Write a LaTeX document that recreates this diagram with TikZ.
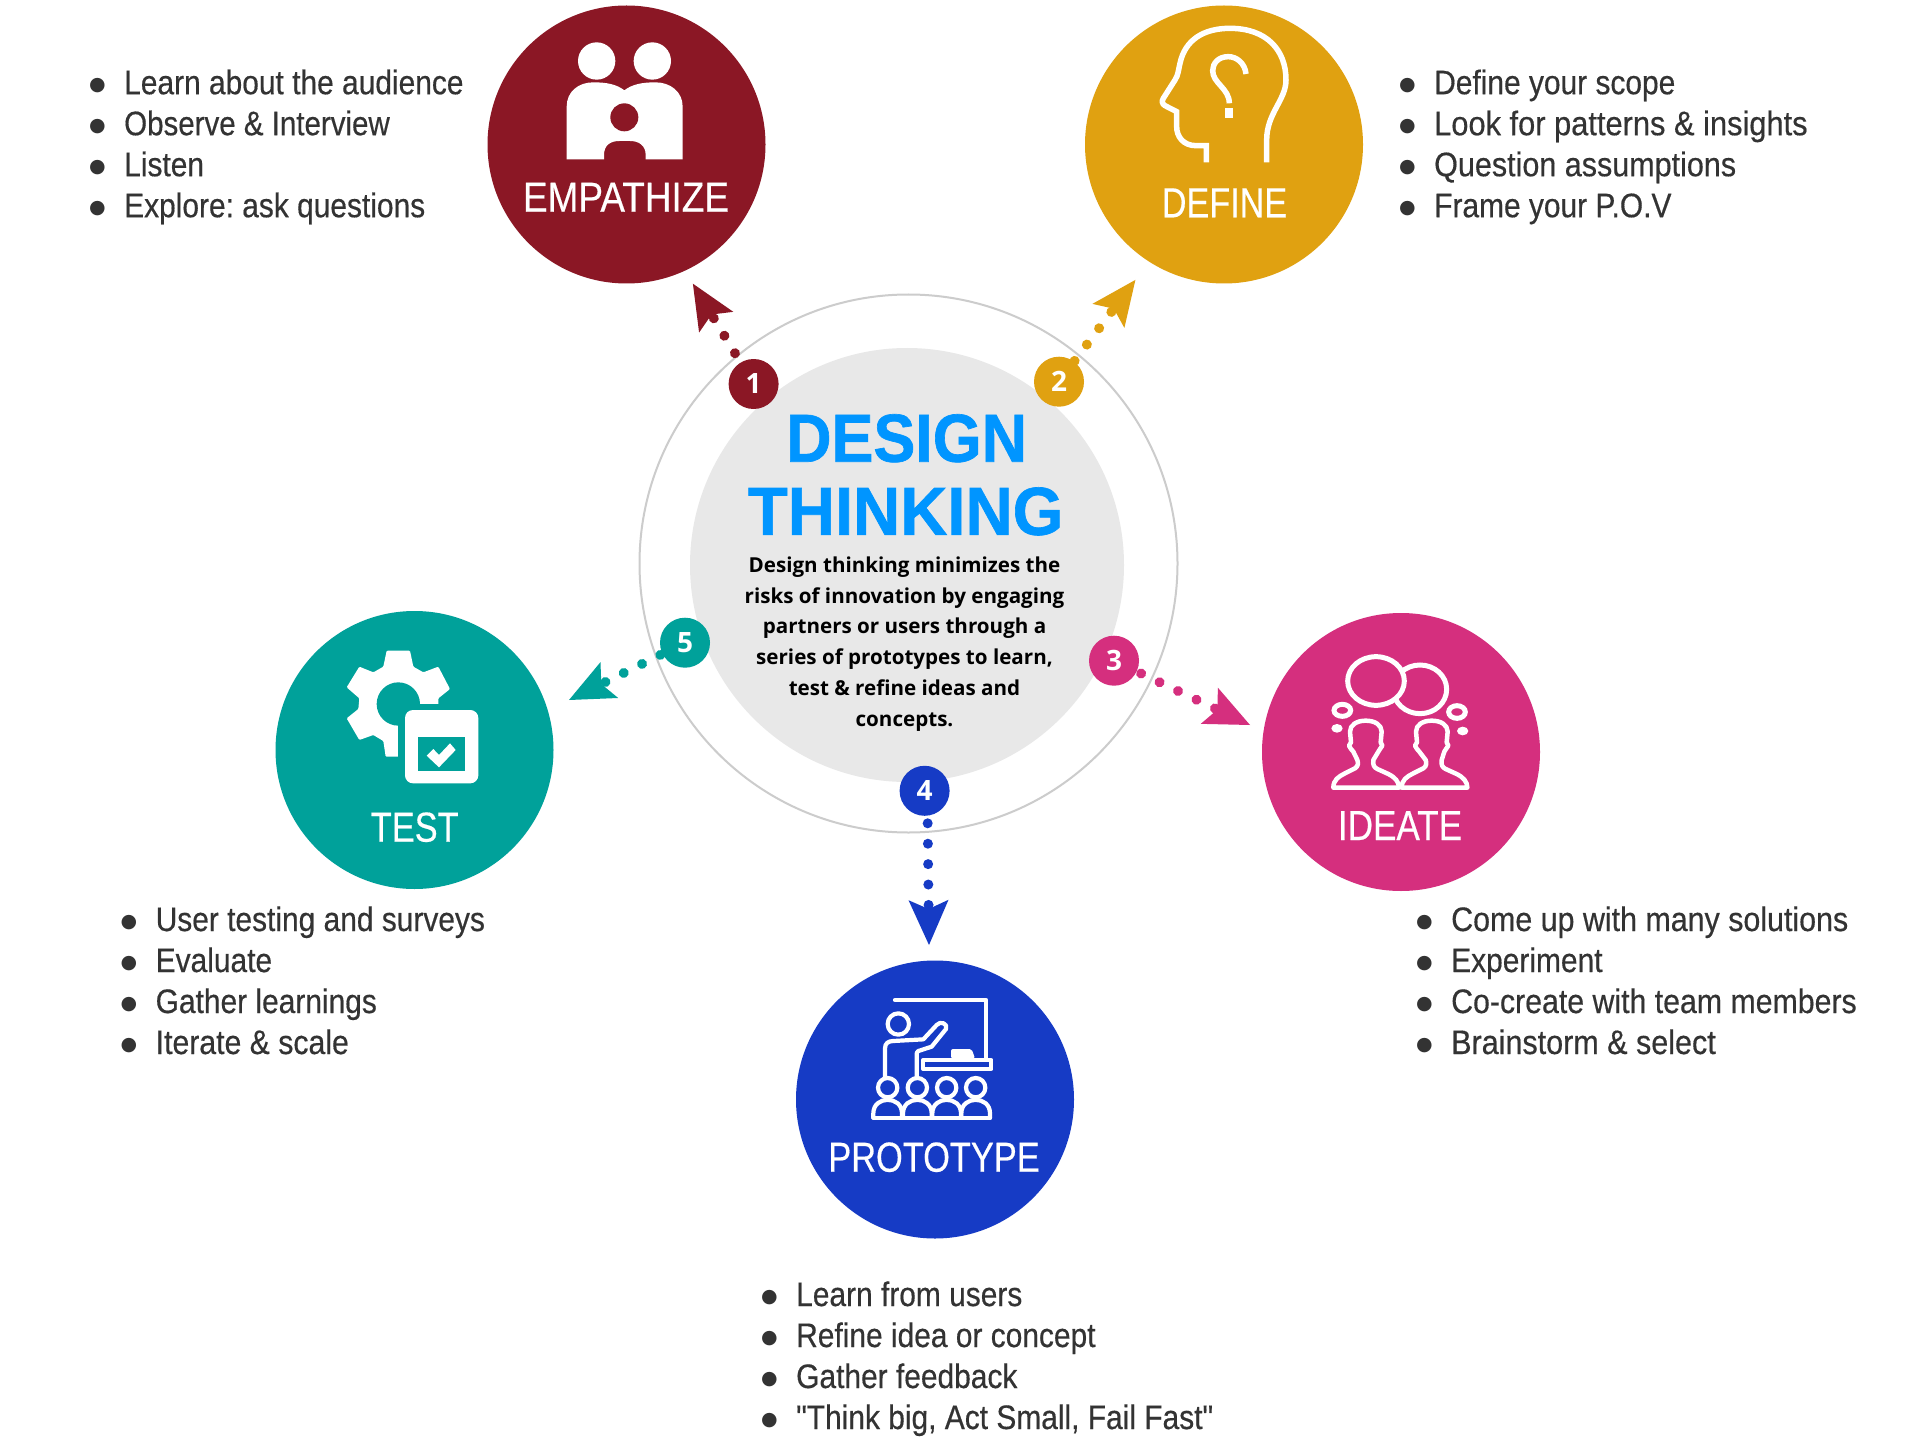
\documentclass[tikz,border=0pt]{standalone}
\usepackage{fontspec}
\usetikzlibrary{arrows.meta}
\setmainfont{Liberation Sans}
\newfontfamily\condf[FakeStretch=0.88,FakeBold=0.4]{Liberation Sans}
\newfontfamily\bodyf{Open Sans}
\newfontfamily\titlef[BoldFeatures={FakeBold=1}]{Liberation Sans}
\newfontfamily\bulf{DejaVu Sans}
\definecolor{cmaroon}{HTML}{8B1725}
\definecolor{cgold}{HTML}{E0A111}
\definecolor{cpink}{HTML}{D52F7E}
\definecolor{cblue}{HTML}{163BC5}
\definecolor{cteal}{HTML}{00A19A}
\definecolor{cdisc}{HTML}{E8E8E8}
\definecolor{cring}{HTML}{CCCCCC}
\definecolor{ctitle}{HTML}{0095FF}
\definecolor{clist}{HTML}{333333}
\newcommand{\bul}{\makebox[33pt][l]{\hspace*{-2pt}\raisebox{4pt}{\bulf\fontsize{19}{19}\selectfont ●}}}
\newcommand{\hs}[2]{\scalebox{#1}[1]{#2}}
\newcommand{\num}[1]{\raisebox{-1pt}{#1}}
\frenchspacing
\tikzset{
  stagecircle/.style={circle,fill=#1,minimum size=278pt,inner sep=0pt,outer sep=0pt},
  stagelabel/.style={text=white,anchor=base,inner sep=0pt,font=\condf\fontsize{42}{42}\selectfont},
  badge/.style={circle,fill=#1,minimum size=50pt,inner sep=0pt,outer sep=0pt,text=white,font=\bodyf\bfseries\fontsize{28}{28}\selectfont},
  flow/.style={draw=#1,line width=10pt,line cap=round,dash pattern=on 0.01pt off 20.4pt,
    -{Stealth[length=45pt,width=40pt,inset=9pt,line width=0pt,#1]}},
  listtext/.style={text=clist,anchor=base west,inner sep=0pt,align=left,font=\condf\fontsize{34}{41}\selectfont},
  titletext/.style={text=ctitle,anchor=base,inner sep=0pt,font=\titlef\bfseries\fontsize{68}{68}\selectfont},
  icon/.style={x=0.33333pt,y=-0.33333pt}
}
\begin{document}
\begin{tikzpicture}[x=1pt,y=-1pt]
\useasboundingbox (0,0) rectangle (1920,1455);
\fill[white] (0,0) rectangle (1920,1455);
% centre
\node[circle,draw=cring,line width=2pt,minimum size=538pt,inner sep=0pt,outer sep=0pt] (ring) at (908.5,563.5) {};
\node[circle,fill=cdisc,minimum size=434pt,inner sep=0pt,outer sep=0pt] (disc) at (907,565) {};
% stages
\node[stagecircle=cmaroon] (emp) at (626.5,144.5) {};
\node[stagecircle=cgold] (def) at (1224,144.5) {};
\node[stagecircle=cpink] (ide) at (1401,752) {};
\node[stagecircle=cblue] (pro) at (935,1099.5) {};
\node[stagecircle=cteal] (tes) at (414.5,750) {};
% badges
\node[badge=cmaroon] (b1) at (753.6,384) {\num{1}};
\node[badge=cgold] (b2) at (1059,381.7) {\num{2}};
\node[badge=cpink] (b3) at (1114,660.7) {\num{3}};
\node[badge=cblue] (b4) at (924.6,790.8) {\num{4}};
\node[badge=cteal] (b5) at (685,642.7) {\num{5}};
% arrow tips
\coordinate (t1) at (692.9,283.7);
\coordinate (t2) at (1135.4,279.9);
\coordinate (t3) at (1250,725);
\coordinate (t4) at (929,945);
\coordinate (t5) at (569,700);
\draw[flow=cmaroon,shorten <=11pt] (b1) -- (t1);
\draw[flow=cgold,shorten <=1pt] (b2) -- (t2);
\draw[flow=cpink,shorten <=5pt] (b3) -- (t3);
\draw[flow=cblue,shorten <=7.5pt] ([xshift=3pt]b4.south) -- (t4);
\draw[flow=cteal,shorten <=2.5pt] (b5) -- (t5);
% stage labels
\node[stagelabel] (l1) at (626,211.7) {\hs{1.0}{EMPATHIZE}};
\node[stagelabel] (l2) at (1224.5,217.3) {\hs{.925}{DEFINE}};
\node[stagelabel] (l3) at (1400,840) {\hs{.95}{IDEATE}};
\node[stagelabel] (l4) at (934,1171.7) {\hs{.93}{PROTOTYPE}};
\node[stagelabel] (l5) at (414.7,841.7) {\hs{.93}{TEST}};
% title
\node[titletext] (t-a) at (906.6,461.7) {\hs{.924}{DESIGN}};
\node[titletext] (t-b) at (905.7,534.8) {\hs{.96}{THINKING}};
\node[anchor=base,inner sep=0pt,align=center,font=\bodyf\bfseries\fontsize{20.6}{30.7}\selectfont] (desc) at (904.5,726)
 {Design thinking minimizes the\\risks of innovation by engaging\\partners or users through a\\series of prototypes to learn,\\test \& refine ideas and\\concepts.};
% lists
\node[listtext] (list1) at (91,217.2) {\bul Learn about the audience\\\bul \hs{.986}{Observe \& Interview}\\\bul Listen\\\bul Explore: ask questions};
\node[listtext] (list2) at (1401,217.2) {\bul Define your scope\\\bul \hs{1.03}{Look for patterns \& insights}\\\bul \hs{1.02}{Question assumptions}\\\bul Frame your P.O.V};
\node[listtext] (list3) at (1418,1054) {\bul \hs{1.016}{Come up with many solutions}\\\bul Experiment\\\bul \hs{1.012}{Co-create with team members}\\\bul \hs{1.02}{Brainstorm \& select}};
\node[listtext] (list4) at (763,1429) {\bul Learn from users\\\bul Refine idea or concept\\\bul Gather feedback\\\bul "Think big, Act Small, Fail Fast"};
\node[listtext] (list5) at (122.5,1054) {\bul User testing and surveys\\\bul Evaluate\\\bul Gather learnings\\\bul \hs{1.01}{Iterate \& scale}};
% icon: empathize
\begin{scope}[shift={(470,0)},icon]
\fill[white] (380,183) circle[radius=56] (547,183) circle[radius=56];
\fill[white] (290,478) -- (290,320) .. controls (290,275) and (325,247) .. (370,247) .. controls (410,247) and (440,253) .. (463,271) .. controls (486,253) and (516,247) .. (556,247) .. controls (601,247) and (638,275) .. (638,320) -- (638,478) -- (527,478) -- (527,465) .. controls (527,435) and (505,423) .. (480,423) -- (448,423) .. controls (422,423) and (402,435) .. (402,465) -- (402,478) -- cycle;
\fill[cmaroon] (463,352) circle[radius=42];
\end{scope}
% icon: define
\begin{scope}[shift={(1070,0)},icon,draw=white,line width=5.5pt]
\draw (409,487) -- (409,437) -- (378,437) .. controls (340,437) and (320,410) .. (320,380) -- (320,335) -- (285,317) .. controls (276,312) and (275,303) .. (280,295) -- (315,240) .. controls (325,225) and (325,210) .. (330,190) .. controls (345,120) and (400,85) .. (480,85) .. controls (590,85) and (648,150) .. (648,240) .. controls (648,300) and (590,340) .. (590,420) -- (590,487);
\draw (528,222) .. controls (525,190) and (500,170) .. (475,170) .. controls (445,170) and (428,190) .. (428,212) .. controls (428,250) and (478,265) .. (478,310);
\fill[white] (466,325) rectangle (490,353);
\end{scope}
% icon: ideate
\begin{scope}[shift={(1250,600)},icon,draw=white,line width=5pt]
\draw (510,268) circle[x radius=80,y radius=73];
\draw[fill=cpink] (378,243) circle[x radius=85,y radius=73];
\draw (277,331) circle[x radius=25,y radius=18];
\draw (621,336) circle[x radius=25,y radius=19];
\fill[white] (261,385) circle[x radius=17,y radius=13] (638,393) circle[x radius=17,y radius=13];
\foreach \b/\h in {0/0,205/198}{
\draw[line width=4.5pt,line join=round] (\b+250,563) .. controls (\b+250,540) and (\b+265,530) .. (\b+285,520) -- (\b+315,505) .. controls (\b+325,498) and (\b+325,490) .. (\b+322,480) -- (\h+310,455) -- (\h+303,447) -- (\h+297,437) -- (\h+303,427) -- (\h+300,395) .. controls (\h+300,375) and (\h+320,362) .. (\h+347,362) .. controls (\h+375,362) and (\h+395,375) .. (\h+395,395) -- (\h+392,427) -- (\h+397,437) -- (\h+390,447) -- (\h+385,455) -- (\b+370,480) .. controls (\b+368,495) and (\b+372,502) .. (\b+382,507) -- (\b+415,522) .. controls (\b+435,532) and (\b+447,545) .. (\b+447,563) -- cycle;
}
\end{scope}
% icon: prototype
\begin{scope}[shift={(790,950)},icon,draw=white,line width=4.2pt,line cap=round,line join=round]
\draw (315,150) -- (588,150) -- (588,325);
\draw (400,330) rectangle (604,357);
\fill[white,rounded corners=2pt] (483,325) -- (483,297) -- (545,297) -- (555,325) -- cycle;
\draw (325,222) circle[radius=32];
\draw (285,380) -- (285,295) .. controls (285,280) and (295,273) .. (310,273) -- (400,268) -- (440,225) .. controls (450,212) and (475,220) .. (468,237) -- (425,290) -- (385,303) .. controls (380,305) and (380,310) .. (380,315) -- (380,380);
\foreach \c in {293,382,470,557}{
\draw (\c,413) circle[radius=29];
\draw (\c-43,503) -- (\c-43,490) .. controls (\c-43,436) and (\c+43,436) .. (\c+43,490) -- (\c+43,503);
}
\draw (250,503) -- (600,503);
\end{scope}
% icon: test
\begin{scope}[shift={(270,610)},icon]
\fill[white,rounded corners=1pt] (350,122) -- (420,122) -- (430,170) -- (460,187) -- (505,170) -- (540,237) -- (505,265) -- (505,300) -- (540,325) -- (505,390) -- (460,375) -- (430,393) -- (420,440) -- (347,440) -- (340,393) -- (310,375) -- (268,390) -- (230,325) -- (265,297) -- (268,265) -- (230,232) -- (268,170) -- (310,187) -- (340,170) -- cycle;
\fill[cteal] (385,282) circle[radius=65];
\fill[cteal] (385,282) rectangle (640,540);
\fill[white,rounded corners=8pt] (405,300) rectangle (625,520);
\fill[cteal] (445,382) rectangle (585,482);
\fill[white] (470,437) -- (490,417) -- (507,435) -- (540,400) -- (557,420) -- (507,472) -- cycle;
\end{scope}
\end{tikzpicture}
\end{document}
